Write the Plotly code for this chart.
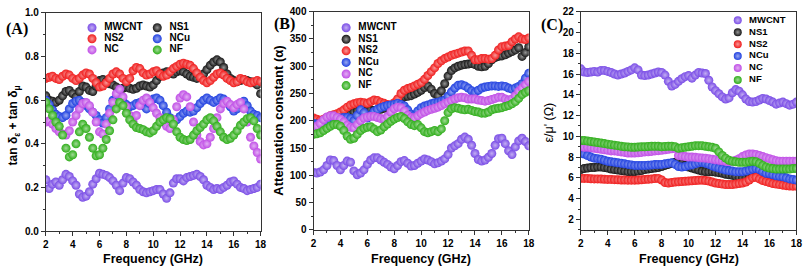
import plotly.graph_objects as go

# ---------------- data ----------------
freq = [2.0, 2.25, 2.5, 2.75, 3.0, 3.25, 3.5, 3.75,
        4.0, 4.25, 4.5, 4.75, 5.0, 5.25, 5.5, 5.75,
        6.0, 6.25, 6.5, 6.75, 7.0, 7.25, 7.5, 7.75,
        8.0, 8.25, 8.5, 8.75, 9.0, 9.25, 9.5, 9.75,
        10.0, 10.25, 10.5, 10.75, 11.0, 11.25, 11.5, 11.75,
        12.0, 12.25, 12.5, 12.75, 13.0, 13.25, 13.5, 13.75,
        14.0, 14.25, 14.5, 14.75, 15.0, 15.25, 15.5, 15.75,
        16.0, 16.25, 16.5, 16.75, 17.0, 17.25, 17.5, 17.75,
        18.0]

names = ["MWCNT", "NS1", "NS2", "NCu", "NC", "NF"]
colors = ["#7a4de6", "#161616", "#f01c1c", "#2040e0", "#c04ee6", "#2fae1a"]

# (A) tan δε + tan δμ
loss_MWCNT = [0.235, 0.195, 0.215, 0.225, 0.21, 0.235, 0.26, 0.25,
              0.23, 0.21, 0.17, 0.155, 0.16, 0.18, 0.215, 0.24,
              0.265, 0.26, 0.255, 0.245, 0.23, 0.21, 0.185, 0.22,
              0.245, 0.24, 0.225, 0.21, 0.19, 0.18, 0.175, 0.18,
              0.185, 0.19, 0.19, 0.17, 0.15, 0.175, 0.22, 0.24,
              0.24, 0.23, 0.245, 0.25, 0.255, 0.26, 0.25, 0.235,
              0.21, 0.2, 0.19, 0.195, 0.19, 0.2, 0.21, 0.225,
              0.23, 0.215, 0.2, 0.195, 0.185, 0.19, 0.195, 0.2,
              0.215]
loss_NS1 = [0.62, 0.60, 0.595, 0.59, 0.60, 0.62, 0.64, 0.645,
            0.63, 0.615, 0.64, 0.665, 0.66, 0.645, 0.64, 0.665,
            0.69, 0.695, 0.685, 0.675, 0.67, 0.66, 0.65, 0.655,
            0.66, 0.655, 0.65, 0.655, 0.665, 0.67, 0.665, 0.66,
            0.67, 0.69, 0.71, 0.725, 0.73, 0.725, 0.72, 0.73,
            0.735, 0.73, 0.72, 0.71, 0.705, 0.70, 0.705, 0.72,
            0.74, 0.76, 0.775, 0.785, 0.775, 0.75, 0.72, 0.70,
            0.69, 0.685, 0.69, 0.695, 0.69, 0.685, 0.68, 0.67,
            0.63]
loss_NS2 = [0.70, 0.705, 0.71, 0.70, 0.695, 0.71, 0.72, 0.715,
            0.70, 0.69, 0.70, 0.715, 0.725, 0.72, 0.70, 0.68,
            0.66, 0.665, 0.68, 0.70, 0.72, 0.73, 0.72, 0.70,
            0.685, 0.70, 0.735, 0.75, 0.745, 0.725, 0.715, 0.72,
            0.73, 0.735, 0.72, 0.71, 0.715, 0.73, 0.745, 0.755,
            0.765, 0.77, 0.765, 0.76, 0.745, 0.725, 0.705, 0.69,
            0.68, 0.69, 0.705, 0.72, 0.725, 0.715, 0.70, 0.69,
            0.68, 0.685, 0.70, 0.695, 0.685, 0.68, 0.685, 0.69,
            0.685]
loss_NCu = [0.60, 0.58, 0.555, 0.535, 0.525, 0.52, 0.53, 0.56,
            0.585, 0.595, 0.60, 0.59, 0.575, 0.56, 0.545, 0.53,
            0.51, 0.495, 0.52, 0.56, 0.60, 0.615, 0.61, 0.595,
            0.58, 0.57, 0.575, 0.585, 0.59, 0.575, 0.56, 0.585,
            0.605, 0.61, 0.60, 0.575, 0.545, 0.52, 0.505, 0.51,
            0.525, 0.54, 0.55, 0.545, 0.55, 0.565, 0.585, 0.60,
            0.61, 0.60, 0.59, 0.60, 0.61, 0.605, 0.59, 0.57,
            0.55, 0.56, 0.58, 0.595, 0.575, 0.55, 0.535, 0.53,
            0.52]
loss_NC = [0.50, 0.505, 0.49, 0.47, 0.455, 0.445, 0.44, 0.46,
           0.50, 0.53, 0.56, 0.585, 0.59, 0.575, 0.545, 0.50,
           0.455, 0.445, 0.49, 0.54, 0.59, 0.63, 0.65, 0.615,
           0.57, 0.53, 0.50, 0.53, 0.575, 0.60, 0.61, 0.59,
           0.565, 0.54, 0.52, 0.50, 0.48, 0.47, 0.51, 0.57,
           0.61, 0.625, 0.615, 0.57, 0.50, 0.44, 0.41, 0.395,
           0.40, 0.43, 0.47, 0.52, 0.56, 0.585, 0.595, 0.58,
           0.565, 0.58, 0.59, 0.56, 0.50, 0.43, 0.39, 0.36,
           0.33]
loss_NF = [0.59, 0.56, 0.53, 0.50, 0.48, 0.44, 0.38, 0.34,
           0.35, 0.40, 0.455, 0.49, 0.47, 0.43, 0.38, 0.345,
           0.35, 0.38, 0.42, 0.46, 0.51, 0.56, 0.59, 0.575,
           0.54, 0.51, 0.49, 0.475, 0.47, 0.465, 0.455, 0.45,
           0.46, 0.48, 0.50, 0.51, 0.52, 0.515, 0.49, 0.455,
           0.43, 0.42, 0.415, 0.42, 0.44, 0.46, 0.475, 0.49,
           0.51, 0.52, 0.505, 0.48, 0.455, 0.43, 0.42, 0.425,
           0.44, 0.46, 0.485, 0.50, 0.515, 0.52, 0.505, 0.47,
           0.44]

# (B) attenuation constant α
att_MWCNT = [105, 104, 106, 110, 118, 128, 127, 118,
             110, 118, 126, 124, 108, 101, 104, 110,
             120, 128, 132, 132, 128, 124, 120, 115,
             112, 118, 125, 127, 122, 117, 118, 122,
             126, 130, 128, 125, 121, 123, 126, 130,
             138, 150, 154, 158, 166, 170, 166, 155,
             140, 129, 126, 128, 133, 140, 155, 167,
             168, 158, 145, 138, 152, 163, 168, 162,
             154]
att_NS1 = [200, 198, 197, 198, 200, 202, 204, 206,
           205, 207, 210, 213, 216, 218, 219, 218,
           219, 220, 219, 220, 221, 223, 225, 228,
           230, 233, 238, 244, 245, 246, 249, 252,
           256, 261, 264, 258, 250, 246, 255, 268,
           282, 292, 297, 300, 302, 303, 304, 305,
           303, 300, 299, 300, 305, 312, 316, 318,
           319, 321, 324, 327, 330, 334, 318, 325,
           336]
att_NS2 = [205, 203, 201, 203, 206, 209, 211, 213,
           216, 220, 225, 229, 231, 233, 234, 233,
           232, 235, 238, 237, 234, 232, 230, 228,
           233, 240, 250, 256, 259, 261, 264, 267,
           270, 276, 283, 290, 297, 305, 310, 314,
           317, 320, 322, 324, 326, 328, 328, 320,
           312, 312, 314, 314, 313, 314, 320, 330,
           336, 337, 338, 345, 350, 354, 350, 349,
           352]
att_NCu = [195, 194, 193, 195, 198, 200, 202, 204,
           205, 206, 206, 204, 200, 210, 220, 215,
           205, 210, 217, 221, 224, 226, 228, 229,
           230, 232, 230, 227, 220, 212, 210, 218,
           224, 227, 229, 231, 233, 234, 236, 238,
           245, 253, 260, 265, 266, 264, 260, 255,
           252, 256, 260, 262, 263, 264, 264, 263,
           264, 263, 260, 258, 260, 263, 268, 278,
           287]
att_NC = [188, 190, 195, 202, 207, 209, 209, 206,
          203, 198, 192, 188, 187, 193, 200, 205,
          207, 208, 208, 206, 204, 203, 208, 216,
          222, 225, 224, 218, 210, 206, 205, 209,
          213, 216, 219, 221, 223, 225, 228, 231,
          234, 237, 240, 242, 243, 242, 240, 240,
          240, 238, 237, 236, 237, 239, 241, 243,
          243, 240, 238, 240, 246, 254, 260, 266,
          272]
att_NF = [175, 176, 178, 182, 186, 190, 193, 193,
          190, 182, 172, 166, 168, 175, 182, 186,
          188, 189, 185, 180, 183, 189, 194, 199,
          203, 206, 208, 204, 198, 193, 191, 193,
          187, 180, 178, 180, 182, 180, 185, 200,
          215, 222, 224, 223, 221, 220, 221, 219,
          217, 216, 214, 214, 216, 220, 222, 223,
          224, 226, 228, 231, 235, 241, 248, 252,
          255]

# (C) ε/μ'
imp_MWCNT = [16.5, 16.2, 16.15, 16.2, 16.25, 16.2, 16.35, 16.35,
             16.25, 16.15, 16.0, 15.9, 16.0, 16.1, 16.25, 16.4,
             16.6, 16.4, 15.9, 15.85, 15.9, 16.0, 16.1, 16.2,
             16.15, 15.9, 15.3, 14.85, 15.0, 15.3, 15.55, 15.75,
             15.85, 15.6, 15.9, 16.15, 16.1, 16.05, 15.4, 14.75,
             14.4, 14.1, 13.8, 13.6, 13.7, 14.2, 14.5, 14.35,
             14.0, 13.6, 13.35, 13.3, 13.35, 13.5, 13.65, 13.6,
             13.45, 13.3, 13.1, 13.2, 13.3, 13.15, 13.0, 13.1,
             13.3]
imp_NS1 = [6.8, 6.9, 6.95, 7.0, 7.0, 7.05, 7.05, 7.0,
           6.95, 6.85, 6.8, 6.75, 6.7, 6.65, 6.6, 6.6,
           6.6, 6.65, 6.7, 6.8, 6.85, 6.9, 6.95, 7.0,
           7.1, 7.2, 7.3, 7.4, 7.5, 7.45, 7.35, 7.2,
           7.05, 6.95, 6.85, 6.75, 6.65, 6.6, 6.6, 6.6,
           6.55, 6.5, 6.45, 6.35, 6.3, 6.25, 6.15, 6.05,
           6.0, 6.0, 6.05, 6.1, 6.15, 6.1, 6.0, 5.9,
           5.85, 5.8, 5.75, 5.7, 5.65, 5.6, 5.6, 5.55,
           5.5]
imp_NS2 = [5.95, 5.95, 5.95, 5.92, 5.9, 5.9, 5.88, 5.87,
           5.85, 5.85, 5.83, 5.82, 5.8, 5.8, 5.78, 5.78,
           5.78, 5.8, 5.82, 5.85, 5.87, 5.9, 5.93, 5.95,
           5.8, 5.55, 5.5, 5.55, 5.6, 5.62, 5.65, 5.67,
           5.7, 5.72, 5.75, 5.77, 5.78, 5.75, 5.7, 5.6,
           5.5, 5.45, 5.4, 5.35, 5.35, 5.35, 5.4, 5.45,
           5.5, 5.6, 5.8, 6.0, 6.05, 5.9, 5.75, 5.65,
           5.55, 5.45, 5.4, 5.35, 5.3, 5.25, 5.22, 5.2,
           5.2]
imp_NCu = [8.4, 8.3, 8.15, 8.0, 7.9, 7.85, 7.8, 7.7,
           7.6, 7.55, 7.5, 7.45, 7.4, 7.35, 7.3, 7.25,
           7.2, 7.2, 7.2, 7.2, 7.22, 7.25, 7.28, 7.3,
           7.3, 7.35, 7.4, 7.45, 7.3, 7.1, 7.05, 7.1,
           7.2, 7.25, 7.35, 7.45, 7.5, 7.4, 7.3, 7.15,
           7.05, 6.95, 6.85, 6.75, 6.7, 6.65, 6.6, 6.6,
           6.6, 6.65, 6.75, 6.85, 6.9, 6.8, 6.6, 6.45,
           6.4, 6.3, 6.2, 6.15, 6.1, 6.0, 5.9, 5.85,
           5.8]
imp_NC = [9.0, 8.95, 8.95, 8.9, 8.85, 8.8, 8.75, 8.7,
          8.65, 8.6, 8.6, 8.55, 8.5, 8.45, 8.4, 8.4,
          8.4, 8.42, 8.45, 8.5, 8.52, 8.55, 8.6, 8.62,
          8.65, 8.7, 8.75, 8.8, 8.85, 8.15, 8.1, 8.05,
          8.0, 8.0, 7.98, 7.95, 7.92, 7.9, 7.85, 7.8,
          7.75, 7.7, 7.65, 7.6, 7.58, 7.6, 7.7, 7.85,
          8.05, 8.2, 8.3, 8.3, 8.25, 8.15, 8.05, 7.95,
          7.85, 7.75, 7.65, 7.6, 7.6, 7.6, 7.6, 7.6,
          7.6]
imp_NF = [9.6, 9.6, 9.55, 9.5, 9.45, 9.4, 9.35, 9.3,
          9.25, 9.2, 9.15, 9.1, 9.05, 9.0, 8.98, 8.95,
          8.95, 8.97, 9.0, 9.0, 9.02, 9.05, 9.05, 9.05,
          9.0, 9.02, 9.05, 9.05, 9.0, 8.85, 8.9, 8.95,
          9.0, 9.05, 9.1, 9.1, 9.1, 9.05, 9.0, 8.95,
          8.85, 8.5, 8.15, 7.9, 7.7, 7.6, 7.55, 7.5,
          7.5, 7.5, 7.55, 7.6, 7.55, 7.4, 7.2, 7.05,
          6.95, 6.9, 6.85, 6.85, 6.85, 6.85, 6.85, 6.9,
          6.9]

panelA = [loss_MWCNT, loss_NS1, loss_NS2, loss_NCu, loss_NC, loss_NF]
panelB = [att_MWCNT, att_NS1, att_NS2, att_NCu, att_NC, att_NF]
panelC = [imp_MWCNT, imp_NS1, imp_NS2, imp_NCu, imp_NC, imp_NF]
for arr in panelA + panelB + panelC:
    assert len(arr) == len(freq)

# ---------------- styling helpers ----------------
W, H = 810, 275
SANS = "Liberation Sans, Arial, sans-serif"
SERIF = "Liberation Serif, Times New Roman, serif"
HIGHLIGHT = 0.55


def tint(hexc, f):
    h = hexc.lstrip("#")
    r, g, b = (int(h[i:i + 2], 16) for i in (0, 2, 4))
    r = int(r + (255 - r) * f)
    g = int(g + (255 - g) * f)
    b = int(b + (255 - b) * f)
    return f"rgb({r},{g},{b})"


def px_to_paper_x(px):
    return px / W


def px_to_paper_y(py):
    return (H - py) / H


# panel plot-area pixel boxes (left, right, top, bottom)
boxes = {
    "A": (43.3, 260.5, 7.3, 235.3),
    "B": (314.0, 531.7, 6.0, 234.0),
    "C": (584.3, 802.3, 6.0, 234.0),
}
yranges = {"A": [0, 1.0], "B": [0, 400], "C": [1, 22]}
ydticks = {"A": 0.2, "B": 50, "C": 2}
yminor = {"A": 0.1, "B": 25, "C": 1}
ytickfmt = {"A": ".1f", "B": "d", "C": "d"}

fig = go.Figure()
axis_ids = {"A": ("x", "y"), "B": ("x2", "y2"), "C": ("x3", "y3")}
panel_data = {"A": panelA, "B": panelB, "C": panelC}
msize = {"A": 9, "B": 9, "C": 9}

for p in ["A", "B", "C"]:
    xa, ya = axis_ids[p]
    for name, col, vals in zip(names, colors, panel_data[p]):
        fig.add_trace(go.Scatter(
            x=freq, y=vals, mode="markers", name=name, showlegend=False,
            xaxis=xa, yaxis=ya,
            marker=dict(size=msize[p], color=col,
                        gradient=dict(type="radial", color=tint(col, HIGHLIGHT)),
                        line=dict(width=0)),
        ))

# ---------------- legends (drawn inside each panel) ----------------
def pix_to_data(p, px, py):
    l, r, t, b = boxes[p]
    y0, y1 = yranges[p]
    fx = 2 + (px - l) / (r - l) * 16
    fy = y0 + (b - py) / (b - t) * (y1 - y0)
    return fx, fy

# panel A: two columns
legA_cols = [["MWCNT", "NS2", "NC"], ["NS1", "NCu", "NF"]]
legA_colx = [90.0, 156.0]
legA_top, legA_step = 22.7, 11.6
# panel B / C: single column
leg_single = {"B": (347.0, 22.7, 12.1), "C": (743.0, 15.0, 12.45)}

leg_entries = {"A": [], "B": [], "C": []}
for ci, col_names in enumerate(legA_cols):
    for ri, nm in enumerate(col_names):
        leg_entries["A"].append((nm, legA_colx[ci], legA_top + ri * legA_step))
for p in ["B", "C"]:
    lx, ly, ls = leg_single[p]
    for ri, nm in enumerate(names):
        leg_entries[p].append((nm, lx, ly + ri * ls))

leg_font = {"A": 10, "B": 10, "C": 9.5}
leg_msize = {"A": 9, "B": 9, "C": 8}
for p in ["A", "B", "C"]:
    xa, ya = axis_ids[p]
    xs, ys, txt, cs, ts = [], [], [], [], []
    for nm, px, py in leg_entries[p]:
        fx, fy = pix_to_data(p, px, py)
        c = colors[names.index(nm)]
        xs.append(fx)
        ys.append(fy)
        txt.append("  " + nm)
        cs.append(c)
        ts.append(tint(c, HIGHLIGHT))
    fig.add_trace(go.Scatter(
        x=xs, y=ys, mode="markers+text", text=txt, textposition="middle right",
        textfont=dict(family=SANS, size=leg_font[p], color="black", weight="bold"),
        marker=dict(size=leg_msize[p], color=cs,
                    gradient=dict(type="radial", color=ts), line=dict(width=0)),
        xaxis=xa, yaxis=ya, showlegend=False, hoverinfo="skip", cliponaxis=False,
    ))

# ---------------- axes ----------------
layout = dict(
    width=W, height=H, margin=dict(l=0, r=0, t=0, b=0),
    paper_bgcolor="white", plot_bgcolor="white", showlegend=False,
)
tickfont = dict(family=SANS, size=10, color="black", weight="bold")
for i, p in enumerate(["A", "B", "C"]):
    l, r, t, b = boxes[p]
    sfx = "" if i == 0 else str(i + 1)
    layout["xaxis" + sfx] = dict(
        domain=[px_to_paper_x(l), px_to_paper_x(r)], anchor="y" + sfx,
        range=[2, 18], dtick=2, tick0=2, ticks="outside", ticklen=4,
        tickwidth=1, tickcolor="#333", showline=True, linecolor="#333",
        linewidth=1, mirror=True, showgrid=False, zeroline=False,
        tickfont=tickfont, fixedrange=True, ticklabeloverflow="allow",
        minor=dict(dtick=1, ticks="outside", ticklen=2, tickcolor="#333",
                   showgrid=False),
    )
    layout["yaxis" + sfx] = dict(
        domain=[px_to_paper_y(b), px_to_paper_y(t)], anchor="x" + sfx,
        range=yranges[p], dtick=ydticks[p], tick0=0,
        tickformat=ytickfmt[p], ticks="outside", ticklen=4, tickwidth=1,
        tickcolor="#333", showline=True, linecolor="#333", linewidth=1,
        mirror=True, showgrid=False, zeroline=False, tickfont=tickfont,
        fixedrange=True, ticklabeloverflow="allow",
        minor=dict(dtick=yminor[p], ticks="outside", ticklen=2,
                   tickcolor="#333", showgrid=False),
    )

fig.update_layout(**layout)

# ---------------- titles / labels ----------------
ann = []
for p in ["A", "B", "C"]:
    l, r, t, b = boxes[p]
    ann.append(dict(text="<b>Frequency (GHz)</b>", x=px_to_paper_x((l + r) / 2),
                    y=px_to_paper_y(265), xref="paper", yref="paper",
                    xanchor="center", yanchor="middle", showarrow=False,
                    font=dict(family=SANS, size=12.5, color="black")))

ann.append(dict(text="<b>tan δ<sub>ε</sub> + tan δ<sub>μ</sub></b>",
                x=px_to_paper_x(11), y=px_to_paper_y(125), xref="paper",
                yref="paper", textangle=-90, showarrow=False,
                xanchor="center", yanchor="middle",
                font=dict(family=SANS, size=12, color="black")))
ann.append(dict(text="<b>Attenuation constant (α)</b>",
                x=px_to_paper_x(279), y=px_to_paper_y(120), xref="paper",
                yref="paper", textangle=-90, showarrow=False,
                xanchor="center", yanchor="middle",
                font=dict(family=SANS, size=13, color="black")))
ann.append(dict(text="ε/μ' (Ω)",
                x=px_to_paper_x(552), y=px_to_paper_y(122), xref="paper",
                yref="paper", textangle=-90, showarrow=False,
                xanchor="center", yanchor="middle",
                font=dict(family=SANS, size=12.5, color="black")))

for lab, px, py in [("(A)", 14, 24), ("(B)", 285, 19), ("(C)", 555, 20)]:
    ann.append(dict(text="<b>" + lab + "</b>", x=px_to_paper_x(px),
                    y=px_to_paper_y(py), xref="paper", yref="paper",
                    xanchor="center", yanchor="middle", showarrow=False,
                    font=dict(family=SERIF, size=16, color="black")))

fig.update_layout(annotations=ann)
fig.write_html(
    "out.html",
    config={"displayModeBar": False},
    post_script="document.body.style.margin='0';document.body.style.overflow='hidden';",
)
